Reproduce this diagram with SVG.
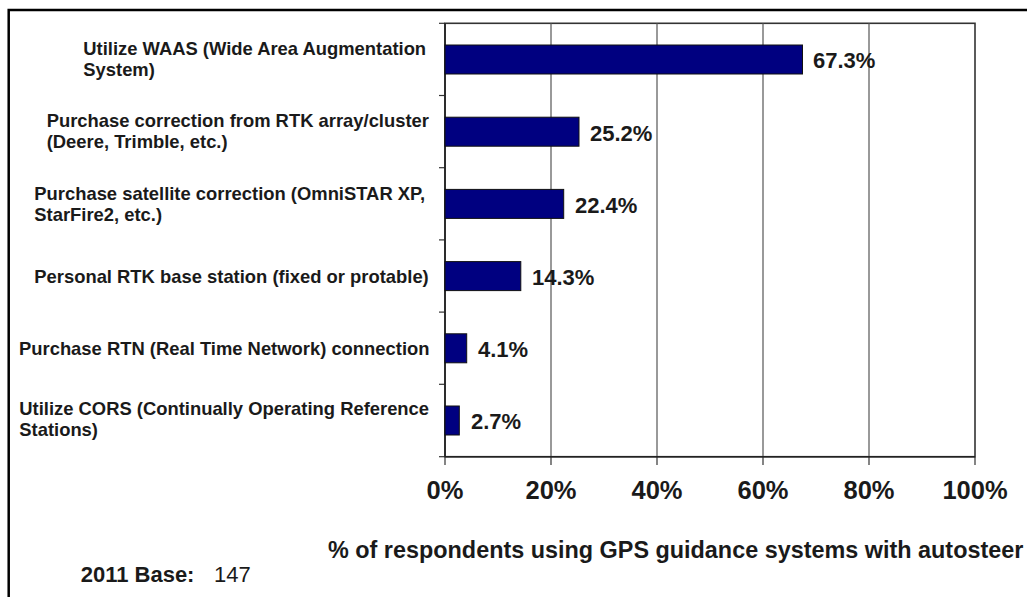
<svg xmlns="http://www.w3.org/2000/svg" width="1027" height="597" viewBox="0 0 1027 597">
<style>
.lbl{font-family:"Liberation Sans",Arial,sans-serif;font-weight:bold;font-size:18.4px;fill:#1a1a1a}
.val{font-family:"Liberation Sans",Arial,sans-serif;font-weight:bold;font-size:22px;fill:#1a1a1a}
.ax{font-family:"Liberation Sans",Arial,sans-serif;font-weight:bold;font-size:25.5px;fill:#1a1a1a;text-anchor:middle}
.ttl{font-family:"Liberation Sans",Arial,sans-serif;font-weight:bold;font-size:23.4px;fill:#1a1a1a}
.bar{fill:#000080;stroke:#111;stroke-width:1}
.grid{stroke:#555;stroke-width:1.2}
.tick{stroke:#333;stroke-width:1.2}
</style>
<rect x="0" y="0" width="1027" height="597" fill="#fff"/>
<rect x="8.7" y="10" width="1030" height="600" fill="none" stroke="#000" stroke-width="2.5"/>
<g id="plot">
<rect x="445" y="23.3" width="530" height="433.4" fill="#fff" stroke="#333" stroke-width="1.6"/>
<line class="grid" x1="551" y1="23.3" x2="551" y2="456.7"/>
<line class="grid" x1="657" y1="23.3" x2="657" y2="456.7"/>
<line class="grid" x1="763" y1="23.3" x2="763" y2="456.7"/>
<line class="grid" x1="869" y1="23.3" x2="869" y2="456.7"/>
<line class="tick" x1="439" y1="23.3" x2="445" y2="23.3"/>
<line class="tick" x1="439" y1="95.5" x2="445" y2="95.5"/>
<line class="tick" x1="439" y1="167.7" x2="445" y2="167.7"/>
<line class="tick" x1="439" y1="239.9" x2="445" y2="239.9"/>
<line class="tick" x1="439" y1="312.1" x2="445" y2="312.1"/>
<line class="tick" x1="439" y1="384.3" x2="445" y2="384.3"/>
<line class="tick" x1="439" y1="456.7" x2="445" y2="456.7"/>
<line class="tick" x1="445" y1="456.7" x2="445" y2="465"/>
<line class="tick" x1="551" y1="456.7" x2="551" y2="465"/>
<line class="tick" x1="657" y1="456.7" x2="657" y2="465"/>
<line class="tick" x1="763" y1="456.7" x2="763" y2="465"/>
<line class="tick" x1="869" y1="456.7" x2="869" y2="465"/>
<line class="tick" x1="975" y1="456.7" x2="975" y2="465"/>
<line x1="445" y1="23.3" x2="445" y2="456.7" stroke="#222" stroke-width="1.6"/>
<line x1="445" y1="456.7" x2="975" y2="456.7" stroke="#222" stroke-width="1.6"/>
</g>
<g id="bar1">
<rect class="bar" x="445" y="45" width="357.5" height="29"/>
<text class="val" x="813" y="67.5">67.3%</text>
<text class="lbl" x="83.3" y="55">Utilize WAAS (Wide Area Augmentation</text>
<text class="lbl" x="83.3" y="76">System)</text>
</g>
<g id="bar2">
<rect class="bar" x="445" y="117.2" width="134" height="29"/>
<text class="val" x="590" y="140.5">25.2%</text>
<text class="lbl" x="46.7" y="127.3">Purchase correction from RTK array/cluster</text>
<text class="lbl" x="46.7" y="148.3">(Deere, Trimble, etc.)</text>
</g>
<g id="bar3">
<rect class="bar" x="445" y="189.4" width="118.7" height="29"/>
<text class="val" x="575" y="212.5">22.4%</text>
<text class="lbl" x="34.3" y="199.5">Purchase satellite correction (OmniSTAR XP,</text>
<text class="lbl" x="34.3" y="220.5">StarFire2, etc.)</text>
</g>
<g id="bar4">
<rect class="bar" x="445" y="261.6" width="75.8" height="29"/>
<text class="val" x="532" y="284.5">14.3%</text>
<text class="lbl" x="34.3" y="283">Personal RTK base station (fixed or protable)</text>
</g>
<g id="bar5">
<rect class="bar" x="445" y="333.8" width="21.7" height="29"/>
<text class="val" x="478" y="356.7">4.1%</text>
<text class="lbl" x="19" y="355">Purchase RTN (Real Time Network) connection</text>
</g>
<g id="bar6">
<rect class="bar" x="445" y="406" width="14.3" height="29"/>
<text class="val" x="471" y="429">2.7%</text>
<text class="lbl" x="19.3" y="415">Utilize CORS (Continually Operating Reference</text>
<text class="lbl" x="19.3" y="436">Stations)</text>
</g>
<g id="axis-labels">
<text class="ax" x="445" y="498.5">0%</text>
<text class="ax" x="551" y="498.5">20%</text>
<text class="ax" x="657" y="498.5">40%</text>
<text class="ax" x="763" y="498.5">60%</text>
<text class="ax" x="869" y="498.5">80%</text>
<text class="ax" x="975" y="498.5">100%</text>
</g>
<g id="axis-title">
<text class="ttl" x="328" y="558.3">% of respondents using GPS guidance systems with autosteer</text>
</g>
<g id="base">
<text font-family="Liberation Sans, Arial, sans-serif" font-size="22" fill="#1a1a1a" y="581.5"><tspan x="80.7" font-weight="bold">2011 Base:</tspan><tspan x="214">147</tspan></text>
</g>
</svg>
